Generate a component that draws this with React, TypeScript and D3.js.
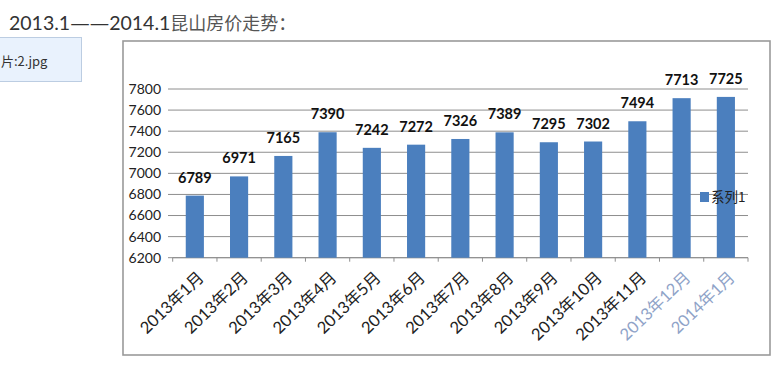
import React from 'react';
import * as d3 from 'd3';

const months = [
  '2013年1月', '2013年2月', '2013年3月', '2013年4月', '2013年5月', '2013年6月', '2013年7月',
  '2013年8月', '2013年9月', '2013年10月', '2013年11月', '2013年12月', '2014年1月',
];
const prices = [6789, 6971, 7165, 7390, 7242, 7272, 7326, 7389, 7295, 7302, 7494, 7713, 7725];
const yTicks = [6200, 6400, 6600, 6800, 7000, 7200, 7400, 7600, 7800];
const seriesName = '系列1';

const W = 780;
const H = 373;
const num = 'Lato, "Noto Sans CJK SC", sans-serif';
const cjk = '"Noto Sans CJK SC", sans-serif';

export default function App() {
  const x = d3.scaleBand<string>().domain(months).range([172.7, 748]).paddingInner(0.59).paddingOuter(0.295);
  const xb = d3.scaleBand<string>().domain(months).range([172.7, 748]);
  const y = d3.scaleLinear().domain([6200, 7800]).range([257.7, 89]);
  const bottom = y(6200);

  return (
    <svg width={W} height={H} style={{ position: 'absolute', left: 0, top: 0 }}>
      <rect width={W} height={H} fill="#fff" />
      {/* title */}
      <text x={9} y={30} fontFamily={num} fontSize={19.5} fill="#333">
        2013.1<tspan fontFamily="DejaVu Sans">——</tspan>2014.1
        <tspan fontFamily={cjk} fontSize={18} fill="#555">昆山房价走势：</tspan>
      </text>
      {/* left image caption box */}
      <rect x={-1} y={37.5} width={82.5} height={44} fill="#e9f2fd" stroke="#bccde2" />
      <text x={1} y={66} fontFamily={cjk} fontSize={13} fill="#333">片:2.jpg</text>

      {/* chart frame */}
      <rect x={123} y={41} width={647} height={314} fill="#fff" stroke="#9a9a9a" strokeWidth={1.6} />

      {/* gridlines + y labels */}
      {yTicks.map(t => (
        <g key={t}>
          <line x1={168} x2={748} y1={y(t)} y2={y(t)} stroke="#8e8e8e" strokeWidth={1} />
          <text x={161} y={y(t)} dy="0.35em" textAnchor="end" fontFamily={num} fontSize={14} fill="#222">{t}</text>
        </g>
      ))}

      {/* x axis */}
      <line x1={172.7} x2={748} y1={bottom} y2={bottom} stroke="#8e8e8e" />
      {months.map(m => (
        <line key={m} x1={xb(m)!} x2={xb(m)!} y1={bottom} y2={bottom + 4} stroke="#8e8e8e" />
      ))}
      <line x1={748} x2={748} y1={bottom} y2={bottom + 4} stroke="#8e8e8e" />

      {/* bars */}
      {months.map((m, i) => (
        <rect key={m} x={x(m)!} y={y(prices[i])} width={x.bandwidth()} height={bottom - y(prices[i])} fill="#4b7fbe" />
      ))}

      {/* value labels */}
      {months.map((m, i) => (
        <text key={m} x={x(m)! + x.bandwidth() / 2} y={y(prices[i]) - 13} textAnchor="middle"
          fontFamily={num} fontWeight="bold" fontSize={14.5} fill="#111">{prices[i]}</text>
      ))}

      {/* x labels */}
      {months.map((m, i) => {
        const cx = xb(m)! + xb.bandwidth() / 2;
        return (
          <text key={m} transform={`translate(${cx + 10},${bottom + 21}) rotate(-44)`} textAnchor="end"
            fontFamily={num} fontSize={16.5} fill={i >= 11 ? '#8fa3c8' : '#222'}>{m}</text>
        );
      })}

      {/* legend */}
      <rect x={700} y={192} width={9} height={10} fill="#4b7fbe" />
      <text x={711} y={197} dy="0.35em" fontFamily={cjk} fontSize={13.5} fill="#222">{seriesName}</text>
    </svg>
  );
}
